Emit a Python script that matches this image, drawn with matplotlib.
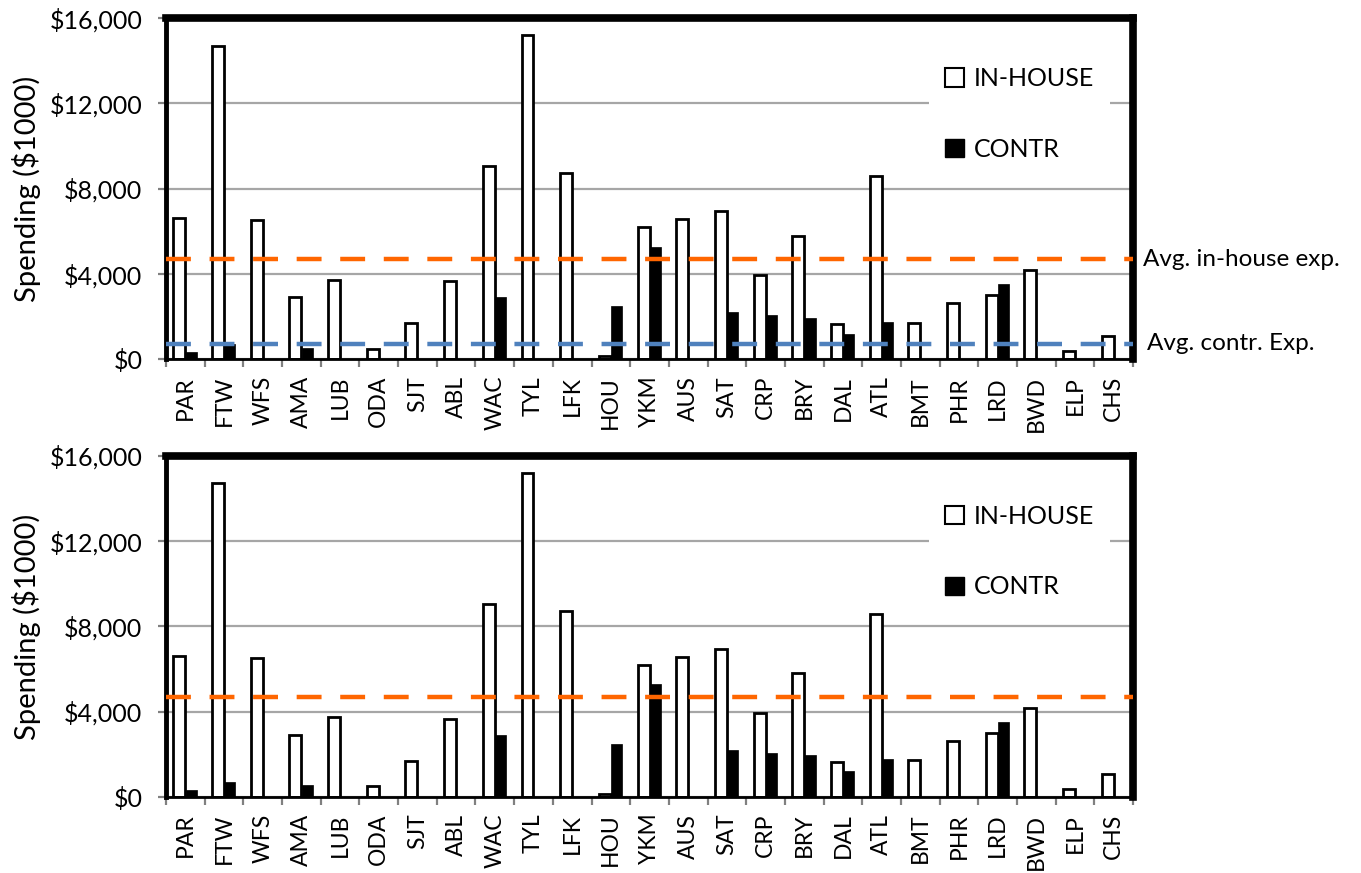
import matplotlib
matplotlib.use("Agg")
import matplotlib.pyplot as plt
import numpy as np
from matplotlib.patches import Patch
from matplotlib.ticker import FuncFormatter, FixedLocator
import matplotlib.transforms as mtransforms

plt.rcParams['font.family'] = ['Lato', 'DejaVu Sans']

# district codes
districts = ['PAR', 'FTW', 'WFS', 'AMA', 'LUB', 'ODA', 'SJT', 'ABL', 'WAC', 'TYL',
             'LFK', 'HOU', 'YKM', 'AUS', 'SAT', 'CRP', 'BRY', 'DAL', 'ATL', 'BMT',
             'PHR', 'LRD', 'BWD', 'ELP', 'CHS']

# spending in $1000
in_house = [6630, 14700, 6540, 2910, 3740, 500, 1690, 3650, 9070, 15200,
            8740, 140, 6210, 6580, 6930, 3960, 5800, 1660, 8570, 1720,
            2640, 3020, 4190, 375, 1080]
contr = [320, 700, 0, 550, 0, 0, 0, 0, 2930, 0,
         0, 2500, 5280, 0, 2220, 2080, 1960, 1200, 1770, 0,
         0, 3520, 0, 0, 0]

avg_in_house = 4680
avg_contr = 740

ORANGE = '#FF6600'
BLUE = '#4F81BD'
GRID = '#A6A6A6'


def draw_panel(ax, with_contr_avg):
    x = np.arange(len(districts))
    ax.bar(x - 0.155, in_house, 0.31, color='white', edgecolor='black',
           linewidth=2, zorder=2)
    ax.bar(x + 0.15, contr, 0.29, color='black', edgecolor='black',
           linewidth=0.5, zorder=2)

    ax.set_xlim(-0.5, len(districts) - 0.5)
    ax.set_ylim(0, 16000)
    ax.set_yticks(np.arange(0, 16001, 4000))
    ax.yaxis.set_major_formatter(FuncFormatter(lambda v, p: '${:,.0f}'.format(v)))
    ax.grid(axis='y', color=GRID, linewidth=1.6)
    ax.set_axisbelow(True)

    ax.set_xticks(x)
    ax.set_xticklabels(districts, rotation=90, fontsize=16.5)
    ax.xaxis.set_minor_locator(FixedLocator(np.arange(-0.5, len(districts), 1)))
    ax.tick_params(axis='x', which='major', length=0, pad=12)
    ax.tick_params(axis='x', which='minor', length=6, width=1.6, color='gray')
    ax.tick_params(axis='y', length=6, width=1.6, color='gray', labelsize=18, pad=11)
    ax.set_ylabel('Spending ($1000)', fontsize=21, labelpad=6)

    ax.spines['top'].set_linewidth(5.5)
    ax.spines['right'].set_linewidth(5.5)
    ax.spines['left'].set_linewidth(3.5)
    ax.spines['bottom'].set_linewidth(2)
    for s in ax.spines.values():
        s.set_color('black')
        s.set_capstyle('projecting')

    ax.axhline(avg_in_house, color=ORANGE, linewidth=3.2, dashes=(5.6, 4.2),
               zorder=3)
    if with_contr_avg:
        ax.axhline(avg_contr, color=BLUE, linewidth=3.2, dashes=(5.6, 4.2),
                   zorder=3)

    handles = [Patch(facecolor='white', edgecolor='black', linewidth=1.5, label='IN-HOUSE'),
               Patch(facecolor='black', edgecolor='black', label='CONTR')]
    leg = ax.legend(handles=handles, loc='upper left', bbox_to_anchor=(0.776, 0.94),
                    frameon=True, fancybox=False, edgecolor='none', facecolor='white',
                    framealpha=1, fontsize=18, handlelength=0.75, handleheight=0.75,
                    handletextpad=0.4, labelspacing=1.9, borderpad=0.65)
    leg.set_zorder(4)
    return ax


fig = plt.figure(figsize=(13.61, 8.73), dpi=100)
ax1 = fig.add_axes([0.122, 0.5884, 0.7105, 0.391])
ax2 = fig.add_axes([0.122, 0.087, 0.7105, 0.391])

draw_panel(ax1, True)
draw_panel(ax2, False)

trans = mtransforms.blended_transform_factory(ax1.transAxes, ax1.transData)
ax1.text(1.010, avg_in_house, 'Avg. in-house exp.', transform=trans,
         fontsize=17.5, va='center', ha='left')
ax1.text(1.0145, avg_contr, 'Avg. contr. Exp.', transform=trans,
         fontsize=17.5, va='center', ha='left')

fig.savefig('out.png', dpi=100)
